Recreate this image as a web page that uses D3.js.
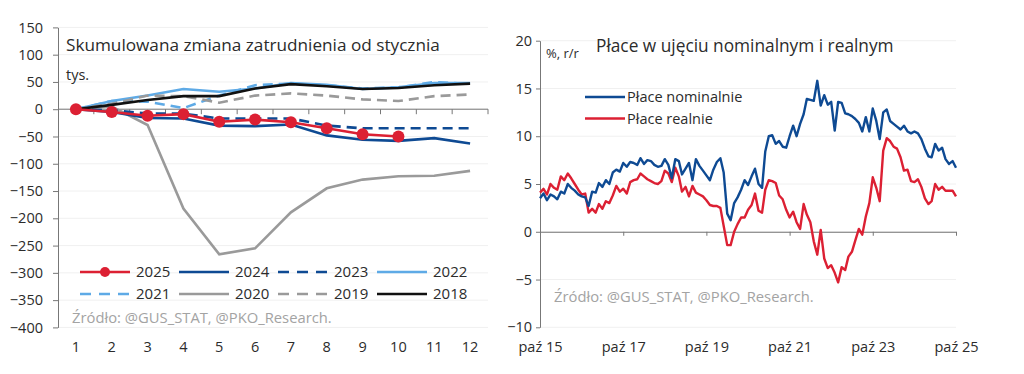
<!DOCTYPE html>
<html>
<head>
<meta charset="utf-8">
<script src="https://cdn.jsdelivr.net/npm/d3@7"></script>
<style>
  body { margin: 0; background: #fff; }
  svg text { font-family: "Open Sans", "Noto Sans", sans-serif; fill: #2b2b2b; }
</style>
</head>
<body>
<svg id="chart" width="1024" height="374"></svg>
<script>
// --- left panel: cumulative employment change since January (thous.)
const monthsLeft = ['1', '2', '3', '4', '5', '6', '7', '8', '9', '10', '11', '12'];
const y2025 = [0, -5, -12, -9, -23, -19, -24, -35, -46, -50];
const y2024 = [0, -5, -16, -17, -30, -31, -28, -48, -56, -58, -53, -63];
const y2023 = [0, -2, -8, -8, -17, -17, -17, -30, -35, -35, -35, -35];
const y2022 = [0, 15, 25, 37, 32, 38, 48, 45, 37, 40, 48, 48];
const y2021 = [0, 15, 14, 2, 25, 44, 47, 44, 38, 40, 50, 46];
const y2020 = [0, 5, -29, -182, -266, -255, -189, -145, -129, -123, -122, -113];
const y2019 = [0, 10, 25, 24, 12, 25, 29, 25, 18, 15, 24, 27];
const y2018 = [0, 8, 17, 24, 24, 38, 46, 42, 37, 39, 44, 47];
const leftTicks = [150, 100, 50, 0, -50, -100, -150, -200, -250, -300, -350, -400];

// --- right panel: wages y/y, monthly from Oct 2015 to Oct 2025
const wageStart = new Date(2015, 9, 1);
const wagesNominal = [
  3.5, 4.0, 3.3, 3.9, 3.7, 3.4, 4.2, 4.0, 5.0, 4.6, 4.3, 3.9,
  3.7, 3.6, 2.7, 4.2, 4.1, 5.1, 4.7, 5.4, 5.0, 6.2, 6.5, 6.3,
  7.2, 6.8, 7.3, 7.2, 7.0, 7.7, 7.1, 7.5, 7.4, 7.0, 6.8, 6.9,
  7.6, 7.0, 5.6, 7.6, 7.4, 6.0, 6.6, 7.2, 5.4, 7.6, 6.9, 6.4,
  5.9, 5.4, 6.5, 7.3, 7.7, 6.2, 1.9, 1.2, 3.0, 3.6, 4.4, 5.4,
  4.9, 5.8, 6.6, 5.0, 4.6, 8.4, 10.0, 10.1, 9.2, 9.5, 8.9, 8.8,
  10.0, 11.1, 10.0, 11.3, 12.3, 13.9, 13.8, 13.7, 15.8, 13.2, 14.3, 13.3,
  13.6, 10.6, 13.6, 13.5, 12.4, 12.3, 12.1, 11.8, 11.4, 10.5, 12.0, 10.5,
  12.9, 11.6, 9.7, 12.5, 12.8, 11.6, 11.3, 11.0, 10.7, 11.1, 10.5, 10.3,
  10.5, 10.3, 9.7, 8.7, 7.9, 7.8, 9.2, 8.5, 8.8, 7.6, 7.1, 7.4,
  6.7
];
const wagesReal = [
  4.1, 4.5, 3.9, 5.0, 4.6, 4.4, 5.8, 5.4, 6.1, 5.6, 5.0, 4.4,
  3.9, 4.0, 2.0, 2.4, 2.0, 2.9, 2.4, 3.2, 3.0, 3.8, 4.8, 4.2,
  4.5, 4.0, 5.2, 5.4, 5.5, 6.1, 5.8, 5.5, 5.3, 5.1, 5.0, 5.3,
  6.4, 6.1, 5.2, 6.7, 5.8, 4.2, 4.7, 3.7, 4.8, 4.1, 3.9, 3.7,
  3.3, 2.8, 2.7, 2.7, 2.5, 0.6, -1.4, -1.4, 0.0, 0.8, 1.5, 1.5,
  2.3, 2.8, 4.0, 2.2, 2.0, 4.4, 5.4, 5.3, 5.1, 3.8, 3.4, 2.3,
  1.5, 2.1, 1.0, 0.3, 2.9, 1.8, 1.0, -1.0, -2.4, 0.2, -2.8, -3.8,
  -3.5, -4.3, -5.3, -3.7, -4.0, -2.6, -2.1, -0.9, 0.3, -0.3, 1.6, 3.0,
  5.7, 4.6, 3.2, 8.5, 9.8, 9.5, 8.9, 8.7, 7.8, 6.4, 6.5, 5.3,
  5.2, 5.5, 4.7, 3.5, 2.9, 3.2, 5.0, 4.4, 4.7, 4.3, 4.3, 4.3,
  3.7
];
const rightTicks = [20, 15, 10, 5, 0, -5, -10];
const rightXTicks = [new Date(2015, 9, 1), new Date(2017, 9, 1), new Date(2019, 9, 1),
  new Date(2021, 9, 1), new Date(2023, 9, 1), new Date(2025, 9, 1)];

const RED = '#dc2033', NAVY = '#0e4a93', SKY = '#5eaae6', GREY = '#9a9a9a', BLACK = '#111';
const DASH = '10 6';
const svg = d3.select('#chart');

function fitText(sel, w) {
  const len = sel.node().getComputedTextLength();
  const fs = parseFloat(sel.attr('font-size'));
  sel.attr('font-size', (fs * w / len).toFixed(2));
}

// ================= LEFT =================
const x1 = d3.scaleBand().domain(monthsLeft).range([58, 488]);
const y1 = d3.scaleLinear().domain([-400, 150]).range([327.4, 27.4]);
const L = svg.append('g');

L.append('g').selectAll('line').data(leftTicks).join('line')
  .attr('x1', 58).attr('x2', 488)
  .attr('y1', d => y1(d)).attr('y2', d => y1(d))
  .attr('stroke', '#f0f0f0').attr('stroke-width', 1);

const yAxL = L.append('g').attr('transform', 'translate(58,0)')
  .call(d3.axisLeft(y1).tickValues(leftTicks).tickSize(5).tickSizeOuter(0).tickPadding(10));
yAxL.select('.domain').attr('stroke', '#777');
yAxL.selectAll('.tick line').attr('stroke', '#777');
yAxL.selectAll('text').attr('font-size', 14.5).attr('fill', '#2b2b2b').attr('font-family', null);

// zero axis with ticks between months
const zeroAx = L.append('g');
zeroAx.append('line').attr('x1', 58).attr('x2', 488)
  .attr('y1', y1(0)).attr('y2', y1(0)).attr('stroke', '#777');
zeroAx.selectAll('.tk').data(monthsLeft.slice(1).concat(['end'])).join('line')
  .attr('class', 'tk')
  .attr('x1', d => d === 'end' ? 488 : x1(d)).attr('x2', d => d === 'end' ? 488 : x1(d))
  .attr('y1', y1(0)).attr('y2', y1(0) + 5).attr('stroke', '#777');

const xAxL = L.append('g').attr('transform', `translate(0,${y1(-400)})`)
  .call(d3.axisBottom(x1).tickSize(0).tickPadding(14));
xAxL.select('.domain').remove();
xAxL.selectAll('text').attr('font-size', 14.5).attr('fill', '#2b2b2b').attr('font-family', null);

const leftSeries = [
  { name: '2021', data: y2021, color: SKY, dash: DASH },
  { name: '2022', data: y2022, color: SKY, dash: null },
  { name: '2019', data: y2019, color: GREY, dash: DASH },
  { name: '2020', data: y2020, color: GREY, dash: null },
  { name: '2023', data: y2023, color: NAVY, dash: DASH },
  { name: '2024', data: y2024, color: NAVY, dash: null },
  { name: '2018', data: y2018, color: BLACK, dash: null },
  { name: '2025', data: y2025, color: RED, dash: null, dots: true }
];
const lineL = d3.line()
  .x((d, i) => x1(monthsLeft[i]) + x1.bandwidth() / 2)
  .y(d => y1(d));

leftSeries.forEach(s => {
  L.append('path').datum(s.data)
    .attr('d', lineL).attr('fill', 'none')
    .attr('stroke', s.color).attr('stroke-width', 2.6)
    .attr('stroke-dasharray', s.dash);
  if (s.dots) {
    L.selectAll('.dot').data(s.data).join('circle')
      .attr('class', 'dot')
      .attr('cx', (d, i) => x1(monthsLeft[i]) + x1.bandwidth() / 2)
      .attr('cy', d => y1(d)).attr('r', 6).attr('fill', s.color);
  }
});

const titleL = L.append('text').attr('x', 66).attr('y', 51).attr('font-size', 17)
  .text('Skumulowana zmiana zatrudnienia od stycznia');
fitText(titleL, 374);
L.append('text').attr('x', 66).attr('y', 80).attr('font-size', 14.5).text('tys.');

// legend
const legOrder = ['2025', '2024', '2023', '2022', '2021', '2020', '2019', '2018'];
const legend = L.append('g');
legOrder.forEach((name, i) => {
  const s = leftSeries.find(t => t.name === name);
  const col = i % 4, row = Math.floor(i / 4);
  const lx = 80 + col * 99, ly = 272 + row * 22;
  legend.append('line').attr('x1', lx).attr('x2', lx + 50).attr('y1', ly).attr('y2', ly)
    .attr('stroke', s.color).attr('stroke-width', 2.6)
    .attr('stroke-dasharray', s.dash ? '11 8' : null);
  if (s.dots) legend.append('circle').attr('cx', lx + 25).attr('cy', ly).attr('r', 5).attr('fill', s.color);
  legend.append('text').attr('x', lx + 56).attr('y', ly + 5).attr('font-size', 15).text(name);
});

const srcL = L.append('text').attr('x', 72).attr('y', 323).attr('font-size', 14)
  .style('fill', '#a3a3a3').text('Źródło: @GUS_STAT, @PKO_Research.');
fitText(srcL, 260);

// ================= RIGHT =================
const x2 = d3.scaleTime().domain([new Date(2015, 9, 1), new Date(2025, 9, 1)]).range([540, 956]);
const y2 = d3.scaleLinear().domain([-10, 20]).range([327.3, 40.7]);
const R = svg.append('g');

R.append('g').selectAll('line').data(rightTicks).join('line')
  .attr('x1', 540).attr('x2', 956)
  .attr('y1', d => y2(d)).attr('y2', d => y2(d))
  .attr('stroke', '#f0f0f0').attr('stroke-width', 1);

const yAxR = R.append('g').attr('transform', 'translate(540,0)')
  .call(d3.axisLeft(y2).tickValues(rightTicks).tickSize(4).tickSizeOuter(0).tickPadding(4));
yAxR.select('.domain').attr('stroke', '#777');
yAxR.selectAll('.tick line').attr('stroke', '#777');
yAxR.selectAll('text').attr('font-size', 14.5).attr('fill', '#2b2b2b').attr('font-family', null);

const monthName = d => 'paź ' + d3.timeFormat('%y')(d);
const zeroR = R.append('g').attr('transform', `translate(0,${y2(0)})`)
  .call(d3.axisBottom(x2).tickValues(rightXTicks).tickSize(4).tickSizeOuter(0).tickFormat(''));
zeroR.select('.domain').attr('stroke', '#777');
zeroR.selectAll('.tick line').attr('stroke', '#777');

const xAxR = R.append('g').attr('transform', `translate(0,${y2(-10)})`)
  .call(d3.axisBottom(x2).tickValues(rightXTicks).tickSize(0).tickPadding(14).tickFormat(monthName));
xAxR.select('.domain').remove();
xAxR.selectAll('text').attr('font-size', 14.5).attr('fill', '#2b2b2b').attr('font-family', null);

const dateAt = i => d3.timeMonth.offset(wageStart, i);
const lineR = d3.line().x((d, i) => x2(dateAt(i))).y(d => y2(d));
R.append('path').datum(wagesReal).attr('d', lineR).attr('fill', 'none')
  .attr('stroke', RED).attr('stroke-width', 2.4).attr('stroke-linejoin', 'round');
R.append('path').datum(wagesNominal).attr('d', lineR).attr('fill', 'none')
  .attr('stroke', NAVY).attr('stroke-width', 2.4).attr('stroke-linejoin', 'round');

const titleR = R.append('text').attr('x', 596).attr('y', 52).attr('font-size', 16)
  .text('Płace w ujęciu nominalnym i realnym');
fitText(titleR, 298);
R.append('text').attr('x', 546).attr('y', 58).attr('font-size', 13).text('%, r/r');

const legR = [{ name: 'Płace nominalnie', color: NAVY }, { name: 'Płace realnie', color: RED }];
legR.forEach((s, i) => {
  const ly = 97 + i * 21.5;
  R.append('line').attr('x1', 585).attr('x2', 625).attr('y1', ly).attr('y2', ly)
    .attr('stroke', s.color).attr('stroke-width', 2.4);
  R.append('text').attr('x', 627).attr('y', ly + 5).attr('font-size', 14.5).text(s.name);
});

const srcR = R.append('text').attr('x', 554).attr('y', 302).attr('font-size', 14)
  .style('fill', '#a3a3a3').text('Źródło: @GUS_STAT, @PKO_Research.');
fitText(srcR, 260);
</script>
</body>
</html>
